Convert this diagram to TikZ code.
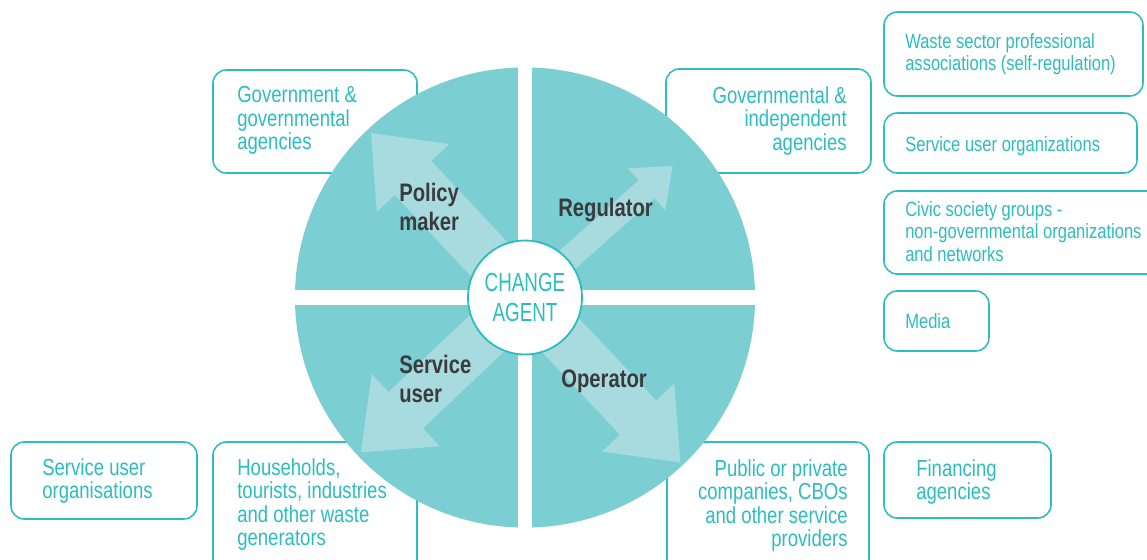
\documentclass[tikz,border=0pt]{standalone}
\usepackage{fontspec}
\setmainfont{Liberation Sans}[FakeStretch=0.8]
\newfontfamily\agentfont{Liberation Sans}[FakeStretch=0.72]
\usetikzlibrary{arrows.meta}
\definecolor{tealline}{HTML}{2DBDBF}
\definecolor{tealdisc}{HTML}{7BCED1}
\definecolor{tealarrow}{HTML}{A7DBDF}
\definecolor{labelgray}{HTML}{3B3B3D}
\tikzset{
  box/.style={draw=tealline, line width=1.1pt, rounded corners=0.33cm, fill=white},
  boxtext/.style={text=tealline, font=\fontsize{16.5}{16.8}\selectfont, inner sep=0pt},
  sidetext/.style={text=tealline, font=\fontsize{14.7}{16}\selectfont, inner sep=0pt, align=left, anchor=north west},
  rolelabel/.style={text=labelgray, font=\bfseries\fontsize{18}{20.6}\selectfont, inner sep=0pt, align=left, anchor=north west},
  bigarrow/.style={color=tealarrow, line width=1.25cm, -{Triangle[length=1.55cm, width=2.375cm]}},
  smallarrow/.style={color=tealarrow, line width=0.6cm, -{Triangle[length=0.875cm, width=1.35cm]}}
}
\begin{document}
\begin{tikzpicture}[x=0.025cm, y=-0.025cm]

    \clip (0,0) rectangle (1147,560);
    \fill[white] (0,0) rectangle (1147,560);

    % --- Boxes (behind the wheel) ---
    \draw[box] (213,70) rectangle (417,173);
    \draw[box] (666,69) rectangle (871,173);
    \draw[box] (11,442) rectangle (197,519);
    \draw[box] (213,442) rectangle (417,590);
    \draw[box] (667,442) rectangle (869,590);
    \draw[box] (884,442) rectangle (1051,518);

    % --- Side column ---
    \draw[box] (884,12) rectangle (1143,96);
    \draw[box] (884,113) rectangle (1137,173);
    \draw[box] (884,191) rectangle (1165,274);
    \draw[box] (884,291) rectangle (989,351);

    % --- Wheel with white cross ---
    \coordinate (ctr) at (525,297.5);
    \fill[tealdisc] (ctr) circle (5.75cm);
    \fill[white] (518,60) rectangle (532,535);
    \fill[white] (290,290) rectangle (760,305);

    % --- Arrows out of the centre ---
    \coordinate (tipnw) at (370.7,132.7);
    \coordinate (tipne) at (672.7,166);
    \coordinate (tipsw) at (360.7,452.7);
    \coordinate (tipse) at (680.7,462.7);
    \draw[bigarrow] (ctr) -- (tipnw);
    \draw[smallarrow] (ctr) -- (tipne);
    \draw[bigarrow] (ctr) -- (tipsw);
    \draw[bigarrow] (ctr) -- (tipse);

    % --- Change agent ---
    \node[circle, draw=tealline, line width=1.3pt, fill=white, minimum size=2.85cm,
          text=tealline, align=center, font=\agentfont\fontsize{18.6}{22}\selectfont]
          (agent) at (ctr) {CHANGE\\AGENT};

    % --- Roles ---
    \node[rolelabel] (policy) at (399,183) {Policy\\maker};
    \node[rolelabel] (regul) at (558,198) {Regulator};
    \node[rolelabel] (suser) at (399,355) {Service\\user};
    \node[rolelabel] (oper) at (561,370) {Operator};

    % --- Box texts ---
    \node[boxtext, anchor=north west, align=left] (govt) at (237,86)
        {Government \&\\governmental\\agencies};
    \node[boxtext, anchor=north east, align=right] (indep) at (847,86)
        {Governmental \&\\independent\\agencies};
    \node[boxtext, anchor=north west, align=left] (suorg) at (42,458)
        {Service user\\organisations};
    \node[boxtext, anchor=north west, align=left] (house) at (237,458)
        {Households,\\tourists, industries\\and other waste\\generators};
    \node[boxtext, anchor=north east, align=right] (compa) at (848,459)
        {Public or private\\companies, CBOs\\and other service\\providers};
    \node[boxtext, anchor=north west, align=left] (finan) at (916,459)
        {Financing\\agencies};

    \node[sidetext] (waste) at (905,33) {Waste sector professional\\associations (self-regulation)};
    \node[sidetext] (suorgs) at (905,136) {Service user organizations};
    \node[sidetext] (civic) at (905,201) {Civic society groups -\\non-governmental organizations\\and networks};
    \node[sidetext] (media) at (905,313) {Media};

\end{tikzpicture}
\end{document}
